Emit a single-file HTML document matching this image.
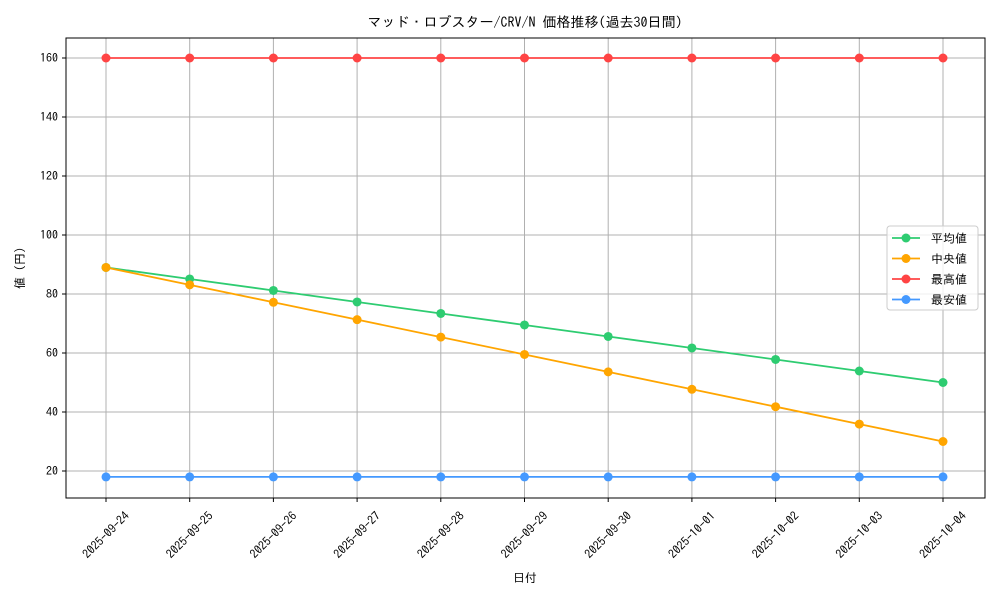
<!DOCTYPE html>
<html><head><meta charset="utf-8"><style>
body{margin:0;background:#fff;}
svg text{font-family:"IPAGothic","Liberation Mono","Noto Sans CJK JP",monospace;fill:#000;}
</style></head><body>
<svg id="chart" width="1000" height="600" xmlns="http://www.w3.org/2000/svg">
<rect width="1000" height="600" fill="#fff"/>
<text x="525" y="27" font-size="14" text-anchor="middle">マッド・ロブスター/CRV/N 価格推移(過去30日間)</text>
<g id="grid"></g>
<g id="series"></g>
<rect x="66" y="38" width="919" height="460" fill="none" stroke="#000" stroke-width="1"/>
<g id="axes"></g>
<text x="525" y="582" font-size="12" text-anchor="middle">日付</text>
<text transform="translate(24,268) rotate(-90)" font-size="12" text-anchor="middle">値 (円)</text>
<g id="legend">
<rect x="887" y="226" width="91" height="84" rx="3" fill="#fff" fill-opacity="0.8" stroke="#ccc"/>
</g>
</svg>
<script>
const categories=["2025-09-24","2025-09-25","2025-09-26","2025-09-27","2025-09-28","2025-09-29","2025-09-30","2025-10-01","2025-10-02","2025-10-03","2025-10-04"];
const avgValues=[89,85.1,81.2,77.3,73.4,69.5,65.6,61.7,57.8,53.9,50];
const medianValues=[89,83.1,77.2,71.3,65.4,59.5,53.6,47.7,41.8,35.9,30];
const maxValues=[160,160,160,160,160,160,160,160,160,160,160];
const minValues=[18,18,18,18,18,18,18,18,18,18,18];
const yTicks=[20,40,60,80,100,120,140,160];
const seriesNames=["平均値","中央値","最高値","最安値"];
const seriesColors=["#2ecc71","#ffa500","#ff4444","#4499ff"];
const NS="http://www.w3.org/2000/svg";
const x0=106,x1=943,y0=530,yPer=2.95;
function xs(i){return x0+(x1-x0)*i/(categories.length-1);}
function ys(v){return y0-v*yPer;}
function mk(t,a,p){const e=document.createElementNS(NS,t);for(const k in a)e.setAttribute(k,a[k]);p.appendChild(e);return e;}
const grid=document.getElementById('grid'),axes=document.getElementById('axes'),ser=document.getElementById('series'),leg=document.getElementById('legend');
categories.forEach((c,i)=>{
 const x=xs(i);
 const g=mk('line',{x1:x,x2:x,y1:38,y2:498,stroke:'#b0b0b0','stroke-width':1},grid);
 
 
 mk('line',{x1:x,x2:x,y1:498,y2:502,stroke:'#000'},axes);
 const cy=535;
 const t=mk('text',{x:x,y:cy+4,'font-size':12,'text-anchor':'middle',transform:`rotate(-45 ${x} ${cy})`},axes);
 t.textContent=c;
 
 
});
yTicks.forEach(v=>{
 const y=ys(v);
 const g=mk('line',{x1:66,x2:985,y1:y,y2:y,stroke:'#b0b0b0','stroke-width':1},grid);
 
 
 mk('line',{x1:62,x2:66,y1:y,y2:y,stroke:'#000'},axes);
 const t=mk('text',{x:58,y:y+4,'font-size':12,'text-anchor':'end'},axes);
 t.textContent=v;
 
 
});
[avgValues,medianValues,maxValues,minValues].forEach((vals,s)=>{
 const g=mk('g',{},ser);
 
 
 const pl=mk('polyline',{points:vals.map((v,i)=>xs(i)+','+ys(v)).join(' '),fill:'none',stroke:seriesColors[s],'stroke-width':1.8},g);
 
 
 vals.forEach((v,i)=>{
  const c=mk('circle',{cx:xs(i),cy:ys(v),r:4.5,fill:seriesColors[s]},g);
  
  
 });
 const ly=238+s*20.5;
 const e=mk('g',{},leg);
 
 
 mk('line',{x1:892,x2:920,y1:ly,y2:ly,stroke:seriesColors[s],'stroke-width':1.8},e);
 mk('circle',{cx:906,cy:ly,r:4.5,fill:seriesColors[s]},e);
 const t=mk('text',{x:931,y:ly+4.5,'font-size':12},e);
 t.textContent=seriesNames[s];
});
</script>
</body></html>
